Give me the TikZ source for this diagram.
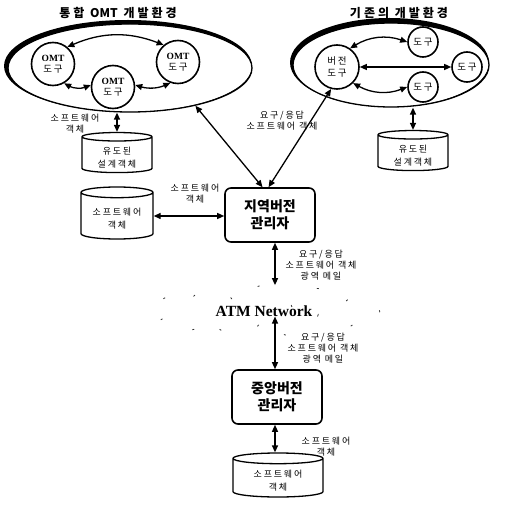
\documentclass[tikz,border=0pt]{standalone}
\usepackage{fontspec}
\newfontfamily\kr{Noto Sans CJK KR}
\newfontfamily\krs{Noto Sans CJK KR}[LetterSpace=20]
\newfontfamily\krt{Noto Sans CJK KR}[LetterSpace=25]
\newfontfamily\tms{Liberation Serif}
\usepackage{tikz}
\usetikzlibrary{arrows.meta}
\usetikzlibrary{shapes.geometric,shapes.symbols}
\tikzset{
  env/.style={ellipse, draw, line width=1.3pt, inner sep=0pt},
  tool/.style={circle, draw, line width=1.6pt, inner sep=0pt, align=center, font=\krs\fontsize{9.5}{11.5}\selectfont},
  manager/.style={draw, line width=1.6pt, rounded corners=6pt, minimum width=90, minimum height=54, align=center, font=\kr\bfseries\fontsize{14}{17}\selectfont},
  store/.style={cylinder, shape border rotate=90, draw, line width=1.3pt, aspect=0.22, inner sep=0pt, align=center, font=\krs\fontsize{9}{13}\selectfont},
  lbl/.style={align=center, font=\krs\fontsize{9}{11}\selectfont},
  title/.style={font=\krt\bfseries\fontsize{12}{14}\selectfont},
  link/.style={line width=1.3pt, {Triangle[length=7pt,width=6pt]}-{Triangle[length=7pt,width=6pt]}}
}
\begin{document}
\begin{tikzpicture}[x=1pt,y=1pt]
        \useasboundingbox (0,0) rectangle (506,504);
        %TITLES
        \node[title] (titleL) at (118,491) {통합 {\kr\bfseries OMT} 개발환경};
        \node[title] (titleR) at (399,491) {기존의 개발환경};
        %OMT ENVIRONMENT
        \node[env, minimum width=244, minimum height=88] (envL) at (130,436) {};
        \fill[even odd rule] (128,438) ellipse[x radius=124, y radius=46] (130,436) ellipse[x radius=122, y radius=44];
        \node[tool, minimum size=43] (omtA) at (53,440) {\tms\bfseries OMT\\도구};
        \node[tool, minimum size=43] (omtB) at (178,442) {\tms\bfseries OMT\\도구};
        \node[tool, minimum size=43] (omtC) at (113,417) {\tms\bfseries OMT\\도구};
        \draw[link] (omtA.50) to[bend left=22] (omtB.130);
        \draw[link] (omtA.-60) to[bend right=25] (omtC.175);
        \draw[link] (omtC.5) to[bend right=20] (omtB.-110);
        %EXISTING ENVIRONMENT
        \node[env, minimum width=196, minimum height=84] (envR) at (391,439) {};
        \fill[even odd rule] (389.5,441.5) ellipse[x radius=99.5, y radius=44.5] (391,439) ellipse[x radius=98, y radius=42];
        \node[tool, minimum size=44] (verT) at (337,437) {버전\\도구};
        \node[tool, minimum size=30] (toolA) at (423,462) {도구};
        \node[tool, minimum size=30] (toolB) at (467,437) {도구};
        \node[tool, minimum size=30] (toolC) at (423,417) {도구};
        \draw[link] (verT.55) to[bend left=25] (toolA.180);
        \draw[link] (verT.0) -- (toolB.180);
        \draw[link] (verT.-45) to[bend right=25] (toolC.180);
        %STORES
        \node[store, minimum width=70, minimum height=38] (dbL1) at (117,349) {\\유도된\\설계객체};
        \node[store, minimum width=70, minimum height=38] (dbR1) at (413,351) {\\유도된\\설계객체};
        \node[store, minimum width=72, minimum height=52] (dbL2) at (117,288) {\\소프트웨어\\객체};
        \node[store, minimum width=90, minimum height=44] (dbC) at (278,26) {\\소프트웨어\\객체};
        \draw[link] (dbL1.north) -- (dbL1.north |- envL.south);
        \draw[link] (dbR1.north) -- (dbR1.north |- envR.south);
        \node[lbl] (lblL1) at (75,380) {소프트웨어\\객체};
        %MANAGERS
        \node[manager] (local) at (270,289) {지역버전\\관리자};
        \node[manager] (central) at (277,107) {중앙버전\\관리자};
        \draw[link] (local.105) -- (envL.-30);
        \draw[link] (local.93) -- (verT.-105);
        \node[lbl] (lblReq) at (282,383) {요구/응답\\소프트웨어 객체};
        \draw[link] (dbL2.east) -- (local.west |- dbL2.east);
        \node[lbl] (lblL2) at (195,310) {소프트웨어\\객체};
        %NETWORK
        \node[cloud, cloud puffs=13, cloud ignores aspect, draw=black!80, line width=0.8pt, dash pattern=on 2pt off 40pt, minimum width=228, minimum height=44, font=\tms\bfseries\fontsize{15.5}{18}\selectfont] (atm) at (264,193) {ATM Network};
        \draw[link] ([xshift=5]local.south) -- ([xshift=5]local.south |- atm.north);
        \node[lbl] (lblUp) at (321,239) {요구/응답\\소프트웨어 객체\\광역 메일};
        \draw[link] ([xshift=-2]central.north) -- ([xshift=-2]central.north |- atm.south);
        \node[lbl] (lblDown) at (323,156) {요구/응답\\소프트웨어 객체\\광역 메일};
        \draw[link] ([xshift=-2]central.south) -- ([xshift=-2]central.south |- dbC.north);
        \node[lbl] (lblC) at (326,57) {소프트웨어\\객체};
\end{tikzpicture}
\end{document}
